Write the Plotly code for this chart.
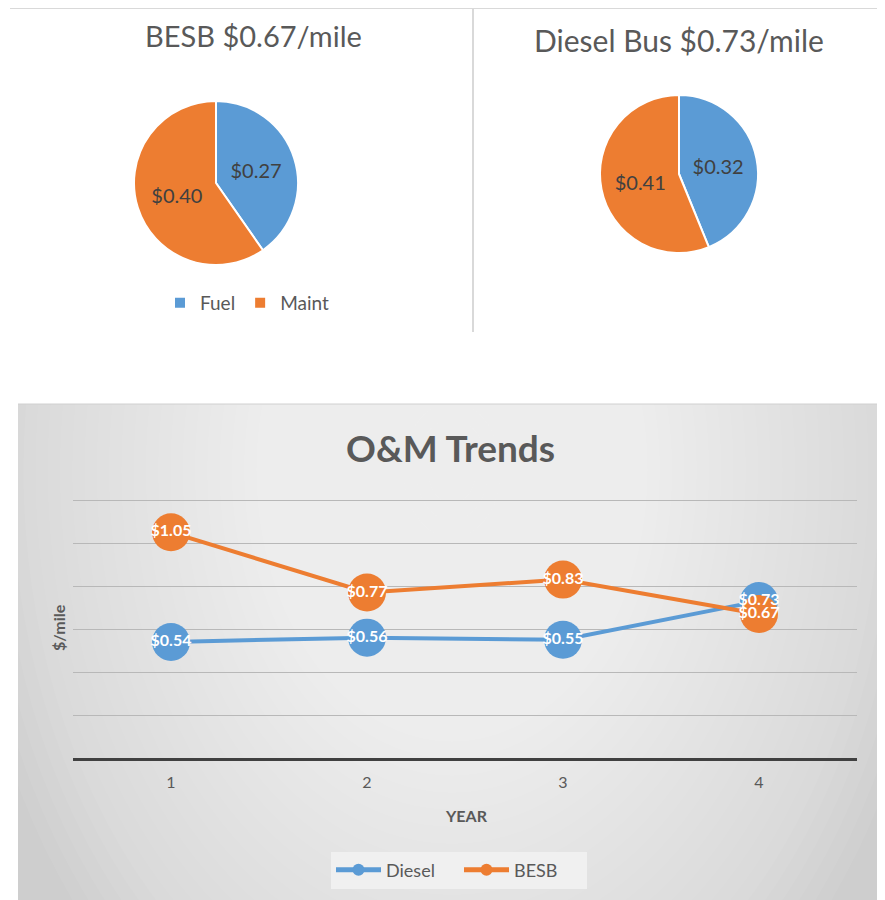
import plotly.graph_objects as go

W, H = 885, 900
OX, OY = 8, 8  # page body margin offset

# ---- data ----
pie_labels = ["Fuel", "Maint"]
besb_pie = [0.27, 0.40]
diesel_pie = [0.32, 0.41]
besb_title = "BESB $0.67/mile"
diesel_title = "Diesel Bus $0.73/mile"

years = [1, 2, 3, 4]
diesel_trend = [0.54, 0.56, 0.55, 0.73]
besb_trend = [1.05, 0.77, 0.83, 0.67]

BLUE = "#5b9bd5"
ORANGE = "#ed7d31"
GRAY = "#595959"
FONT = "Lato"

def px(x):
    return (x - OX) / W

def py(y):
    return 1 - (y - OY) / H

fig = go.Figure()

# ---- pies ----
fig.add_trace(go.Pie(
    labels=pie_labels, values=besb_pie, sort=False, direction="clockwise",
    marker=dict(colors=[BLUE, ORANGE], line=dict(color="white", width=2)),
    texttemplate="$%{value:.2f}", textposition="inside",
    insidetextorientation="horizontal",
    textfont=dict(color="#404040", size=20, family=FONT),
    domain=dict(x=[px(134), px(298)], y=[py(265), py(101)]),
    legend="legend", hoverinfo="skip",
))
fig.add_trace(go.Pie(
    labels=pie_labels, values=diesel_pie, sort=False, direction="clockwise",
    marker=dict(colors=[BLUE, ORANGE], line=dict(color="white", width=2)),
    texttemplate="$%{value:.2f}", textposition="inside",
    insidetextorientation="horizontal",
    textfont=dict(color="#404040", size=20, family=FONT),
    domain=dict(x=[px(600), px(758)], y=[py(253), py(95)]),
    legend="legend2", hoverinfo="skip",
))

# ---- trend lines ----
fig.add_trace(go.Scatter(
    x=years, y=diesel_trend, name="Diesel", mode="lines+markers",
    line=dict(color=BLUE, width=4), marker=dict(color=BLUE, size=38),
    legend="legend3", hoverinfo="skip",
))
fig.add_trace(go.Scatter(
    x=years, y=besb_trend, name="BESB", mode="lines+markers",
    line=dict(color=ORANGE, width=4), marker=dict(color=ORANGE, size=38),
    legend="legend3", hoverinfo="skip",
))
for ys in (diesel_trend, besb_trend):
    fig.add_trace(go.Scatter(
        x=years, y=ys, mode="text", texttemplate="$%{y:.2f}",
        textposition="middle center",
        textfont=dict(color="white", size=16, family=FONT, weight="bold"),
        showlegend=False, hoverinfo="skip",
    ))

# ---- background gradient panel ----
shapes = []
x_left, x_right, y_top, y_bot = 18, 900, 404, 912
shapes.append(dict(type="rect", xref="paper", yref="paper", layer="below",
                   x0=px(x_left), x1=px(x_right), y0=py(y_bot), y1=py(y_top),
                   fillcolor="rgb(206,206,206)", line=dict(width=0)))
N = 40
cx, cy = 452, 470
Rx, Ry = 490, 680
for k in range(N):
    f = 1 - k / N
    shapes.append(dict(
        type="circle", xref="paper", yref="paper", layer="below",
        x0=px(cx - Rx * f), x1=px(cx + Rx * f),
        y0=py(cy + Ry * f), y1=py(cy - Ry * f),
        fillcolor="rgba(255,255,255,0.05)", line=dict(width=0),
    ))
# white cover left of panel and above it (ellipses spill out)
shapes.append(dict(type="rect", xref="paper", yref="paper", layer="below",
                   x0=px(-20), x1=px(x_left), y0=py(y_bot), y1=py(y_top - 1),
                   fillcolor="white", line=dict(width=0)))
shapes.append(dict(type="rect", xref="paper", yref="paper", layer="below",
                   x0=px(-20), x1=px(x_right), y0=py(y_top), y1=py(-300),
                   fillcolor="white", line=dict(width=0)))
shapes.append(dict(type="line", xref="paper", yref="paper", layer="below",
                   x0=px(x_left), x1=px(x_right), y0=py(y_top), y1=py(y_top),
                   line=dict(color="#d0d0d0", width=1)))
# top decorations
shapes.append(dict(type="line", xref="paper", yref="paper",
                   x0=px(10), x1=px(900), y0=py(8), y1=py(8),
                   line=dict(color="#d9d9d9", width=2)))
shapes.append(dict(type="line", xref="paper", yref="paper",
                   x0=px(473), x1=px(473), y0=py(8), y1=py(332),
                   line=dict(color="#d9d9d9", width=2)))

annotations = [
    dict(text=besb_title, x=px(253), y=py(35), xref="paper", yref="paper",
         showarrow=False, font=dict(size=29, color=GRAY, family=FONT),
         xanchor="center", yanchor="middle"),
    dict(text=diesel_title, x=px(679), y=py(40), xref="paper", yref="paper",
         showarrow=False, font=dict(size=30, color=GRAY, family=FONT),
         xanchor="center", yanchor="middle"),
    dict(text="<b>O&M Trends</b>", x=px(450), y=py(447), xref="paper", yref="paper",
         showarrow=False, font=dict(size=37, color=GRAY, family=FONT),
         xanchor="center", yanchor="middle"),
    dict(text="<b>$/mile</b>", x=px(58), y=py(628), xref="paper", yref="paper",
         showarrow=False, textangle=-90, font=dict(size=16, color=GRAY, family=FONT),
         xanchor="center", yanchor="middle"),
    dict(text="<b>YEAR</b>", x=px(466), y=py(815), xref="paper", yref="paper",
         showarrow=False, font=dict(size=16, color=GRAY, family=FONT),
         xanchor="center", yanchor="middle"),
]

fig.update_layout(
    width=W, height=H,
    margin=dict(l=0, r=0, t=0, b=0),
    paper_bgcolor="white", plot_bgcolor="rgba(0,0,0,0)",
    font=dict(family=FONT, color=GRAY),
    shapes=shapes, annotations=annotations,
    xaxis=dict(domain=[px(73), px(857)], range=[0.5, 4.5], tickvals=years,
               showgrid=False, zeroline=False, showline=True,
               linecolor="#404040", linewidth=3, ticks="",
               ticklabelstandoff=8,
               tickfont=dict(size=16, color=GRAY), fixedrange=True),
    yaxis=dict(domain=[py(758), py(499)], range=[0, 1.205], dtick=0.2,
               showgrid=True, gridcolor="#b8b8b8", gridwidth=1,
               showticklabels=False, zeroline=False, fixedrange=True),
    legend=dict(orientation="h", x=px(247), y=py(303), xanchor="center", yanchor="middle",
                font=dict(size=19, color=GRAY), bgcolor="rgba(0,0,0,0)"),
    legend2=dict(orientation="h", x=px(682), y=py(305), xanchor="center", yanchor="middle",
                 font=dict(size=19, color=GRAY), bgcolor="rgba(0,0,0,0)"),
    legend3=dict(orientation="h", x=px(459), y=py(870), xanchor="center", yanchor="middle",
                 font=dict(size=18, color=GRAY), bgcolor="#f0f0f0",
                 itemsizing="constant", itemwidth=45,
                 entrywidth=68, entrywidthmode="pixels"),
    showlegend=True,
)

fig.write_html("out.html")
